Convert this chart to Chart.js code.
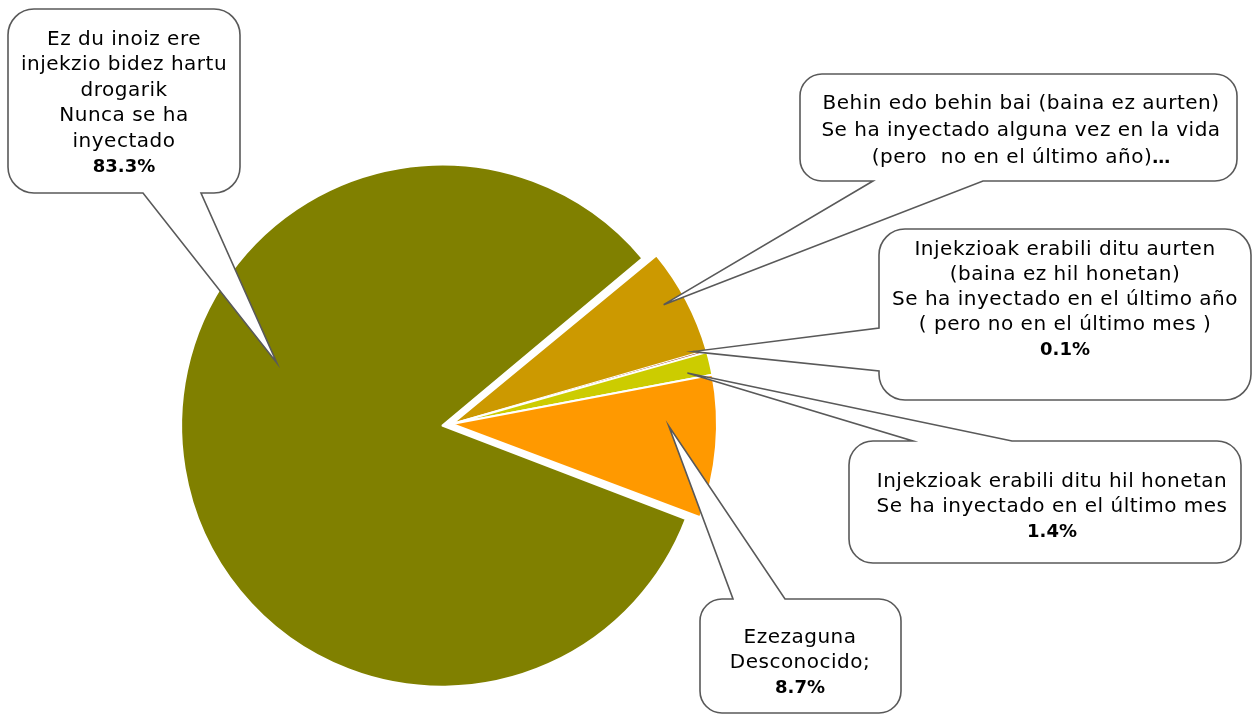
<!DOCTYPE html>
<html>
<head>
<meta charset="utf-8">
<title>Injekzio bidezko drogen kontsumoa</title>
<script src="https://cdn.jsdelivr.net/npm/chart.js@4.4.0/dist/chart.umd.min.js"></script>
<style>
  html, body { margin: 0; padding: 0; background: #ffffff; }
  #wrap { width: 1253px; height: 715px; }
</style>
</head>
<body>
<div id="wrap"><canvas id="myChart" width="1253" height="715"></canvas></div>
<script>
/* datos del gráfico */

const categories = [
  'Nunca se ha inyectado',
  'Se ha inyectado alguna vez en la vida',
  'Se ha inyectado en el último año',
  'Se ha inyectado en el último mes',
  'Desconocido'
];

const percentages = [83.3, 6.5, 0.1, 1.4, 8.7];

const sliceColors = ['#808000', '#CC9900', '#993300', '#CCCC00', '#FF9900'];

// texto de cada etiqueta (sin el porcentaje)
const labelLines = [
  ['Ez du inoiz ere', 'injekzio bidez hartu', 'drogarik', 'Nunca se ha', 'inyectado'],
  ['Behin edo behin bai (baina ez aurten)', 'Se ha inyectado alguna vez en la vida', '(pero  no en el último año)'],
  ['Injekzioak erabili ditu aurten', '(baina ez hil honetan)', 'Se ha inyectado en el último año', '( pero no en el último mes )'],
  ['Injekzioak erabili ditu hil honetan', 'Se ha inyectado en el último mes'],
  ['Ezezaguna', 'Desconocido;']
];

// la etiqueta de la segunda porción sale cortada en el original
const showValue = [true, false, true, true, true];

/* tamaño de la tarta y de la porción separada */

const PIE_RADIUS = 265;
const EXPLODED = 0;          // porción que sale separada
const EXPLODE_OFFSET = 40;   // chart.js la desplaza offset/4 px
const EXPLODED_RADIUS = 261; // radio visible de esa porción

/* posicion de las etiquetas (bocadillos) */

const callouts = [
  { box: [8, 9, 240, 193], r: 26, side: 'bottom', base: [143, 201], turn: 28.7, reach: 0.70, textX: 124, firstY: 45, step: 25.4 },
  { box: [800, 74, 1237, 181], r: 22, side: 'bottom', base: [873, 983], turn: -1.6, reach: 0.917, textX: 1021, firstY: 109, step: 27 },
  { box: [879, 229, 1251, 400], r: 26, side: 'left', base: [328, 371], turn: -0.8, reach: 0.949, textX: 1065, firstY: 255, step: 25 },
  { box: [849, 441, 1241, 563], r: 24, side: 'top', base: [913, 1012], turn: 1.0, reach: 0.909, textX: 1052, firstY: 487, step: 25 },
  { box: [700, 599, 901, 713], r: 22, side: 'top', base: [733, 785], turn: -4.4, reach: 0.818, textX: 800, firstY: 643, step: 25 }
];

const FONT_REGULAR = '20px "DejaVu Sans", sans-serif';
const FONT_BOLD = 'bold 18px "DejaVu Sans", sans-serif';


function calloutPath(ctx, c, tip) {
  let x1 = c.box[0], y1 = c.box[1], x2 = c.box[2], y2 = c.box[3];
  let r = c.r;
  let a = c.base[0], b = c.base[1];

  ctx.beginPath();
  ctx.moveTo(x1 + r, y1);
  if (c.side === 'top') {
    ctx.lineTo(a, y1);
    ctx.lineTo(tip.x, tip.y);
    ctx.lineTo(b, y1);
  }
  ctx.lineTo(x2 - r, y1);
  ctx.arcTo(x2, y1, x2, y1 + r, r);
  ctx.lineTo(x2, y2 - r);
  ctx.arcTo(x2, y2, x2 - r, y2, r);
  if (c.side === 'bottom') {
    ctx.lineTo(b, y2);
    ctx.lineTo(tip.x, tip.y);
    ctx.lineTo(a, y2);
  }
  ctx.lineTo(x1 + r, y2);
  ctx.arcTo(x1, y2, x1, y2 - r, r);
  if (c.side === 'left') {
    ctx.lineTo(x1, b);
    ctx.lineTo(tip.x, tip.y);
    ctx.lineTo(x1, a);
  }
  ctx.lineTo(x1, y1 + r);
  ctx.arcTo(x1, y1, x1 + r, y1, r);
  ctx.closePath();
}

function drawLabelText(ctx, c, i) {
  let lines = labelLines[i];
  let y = c.firstY;

  ctx.fillStyle = '#000000';
  ctx.textAlign = 'left';
  ctx.textBaseline = 'alphabetic';

  for (let k = 0; k < lines.length; k++) {
    ctx.font = FONT_REGULAR;
    ctx.letterSpacing = '0.5px';
    let w = ctx.measureText(lines[k]).width;

    if (k === lines.length - 1 && !showValue[i]) {
      // texto cortado: se añaden puntos suspensivos en negrita
      ctx.font = FONT_BOLD;
      ctx.letterSpacing = '0px';
      let wDots = ctx.measureText('…').width;
      let left = c.textX - (w + wDots) / 2;
      ctx.font = FONT_REGULAR;
      ctx.letterSpacing = '0.5px';
      ctx.fillText(lines[k], left, y);
      ctx.font = FONT_BOLD;
      ctx.letterSpacing = '0px';
      ctx.fillText('…', left + w, y);
    } else {
      ctx.fillText(lines[k], c.textX - w / 2, y);
    }
    y += c.step;
  }

  if (showValue[i]) {
    ctx.font = FONT_BOLD;
    ctx.letterSpacing = '0px';
    let txt = percentages[i].toFixed(1) + '%';
    let w = ctx.measureText(txt).width;
    ctx.fillText(txt, c.textX - w / 2, y);
  }
}

// la porción separada es algo más pequeña que las demás
const explodePlugin = {
  id: 'explodeRadius',
  afterDatasetsUpdate(chart) {
    let arc = chart.getDatasetMeta(0).data[EXPLODED];
    if (arc) {
      arc.outerRadius = EXPLODED_RADIUS - EXPLODE_OFFSET / 4;
    }
  }
};

const calloutPlugin = {
  id: 'callouts',
  afterDraw(chart) {
    let ctx = chart.ctx;
    let arcs = chart.getDatasetMeta(0).data;

    for (let i = 0; i < callouts.length; i++) {
      let c = callouts[i];
      let arc = arcs[i];
      let mid = (arc.startAngle + arc.endAngle) / 2 + c.turn * Math.PI / 180;
      let dist = PIE_RADIUS * c.reach;
      let tip = { x: arc.x + Math.cos(mid) * dist, y: arc.y + Math.sin(mid) * dist };

      ctx.save();
      calloutPath(ctx, c, tip);
      ctx.fillStyle = '#ffffff';
      ctx.fill();
      ctx.lineWidth = 1.6;
      ctx.strokeStyle = '#595959';
      ctx.lineJoin = 'miter';
      ctx.stroke();
      drawLabelText(ctx, c, i);
      ctx.restore();
    }
  }
};

function crearGrafico() {
  let ctx = document.getElementById('myChart').getContext('2d');
  let offsets = percentages.map((v, i) => (i === EXPLODED ? EXPLODE_OFFSET : 0));

  new Chart(ctx, {
    type: 'pie',
    data: {
      labels: categories,
      datasets: [{
        data: percentages,
        backgroundColor: sliceColors,
        borderColor: '#ffffff',
        borderWidth: [2, 2, 0, 2, 2],
        offset: offsets,
        radius: PIE_RADIUS
      }]
    },
    options: {
      responsive: false,
      animation: false,
      devicePixelRatio: 1,
      rotation: 110.6,
      layout: { padding: { left: 0, right: 349, top: 133, bottom: 0 } },
      plugins: {
        legend: { display: false },
        tooltip: { enabled: false }
      }
    },
    plugins: [explodePlugin, calloutPlugin]
  });
}

crearGrafico();
</script>
</body>
</html>
